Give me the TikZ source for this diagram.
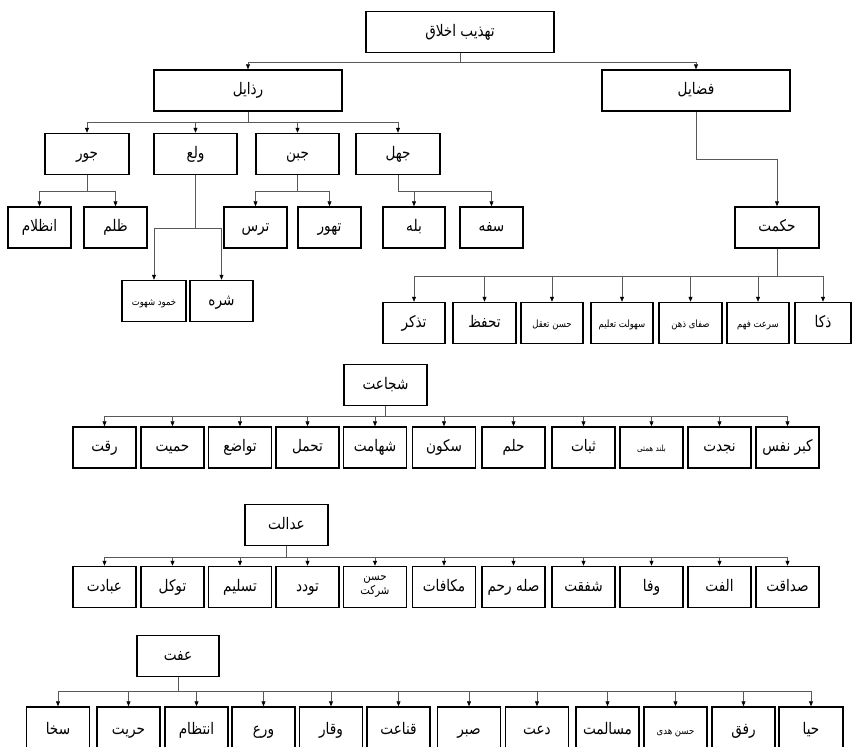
\documentclass[tikz,border=0pt]{standalone}
\usepackage{fontspec}
\usetikzlibrary{arrows.meta}
\TeXXeTstate=1
\newfontfamily\arabicfont[Script=Arabic,FakeStretch=0.85]{DejaVu Sans}
\newcommand{\fa}[1]{\arabicfont\beginR #1\endR}

\begin{document}
\begin{tikzpicture}[x=1pt,y=-1pt,
    box/.style = {draw, line width=1.5pt, minimum width=63pt, minimum height=41pt, inner sep=1pt,
                  text height=0.95em, text depth=0.1em, font=\fontsize{16}{18}\selectfont},
    wide/.style = {box, minimum width=188pt},
    mid/.style = {box, minimum width=83pt},
    small/.style = {font=\fontsize{10}{12}\selectfont},
    low/.style = {box, minimum height=46pt},
    arrow/.style = {line width=0.6pt, draw=black!65, -{Triangle[length=5pt,width=4pt,black]}}]
    \useasboundingbox (0,0) rectangle (852,747);
    \clip (0,0) rectangle (852,747);

    % top levels
    \node [wide] (akhlagh) at (460,32) {\fa{تهذیب اخلاق}};
    \node [wide] (razayel) at (248,90.5) {\fa{رذایل}};
    \node [wide] (fazayel) at (696,90.5) {\fa{فضایل}};

    \node [mid, minimum width=84pt] (jour) at (87,154) {\fa{جور}};
    \node [mid] (vala) at (195.5,154) {\fa{ولع}};
    \node [mid] (jobn) at (297.5,154) {\fa{جبن}};
    \node [mid, minimum width=84pt] (jahl) at (398,154) {\fa{جهل}};

    \node [box] (enzelam) at (39.5,227.5) {\fa{انظلام}};
    \node [box] (zolm) at (115.5,227.5) {\fa{ظلم}};
    \node [box, small, minimum width=64pt] (khomud) at (154,301) {\fa{خمود شهوت}};
    \node [box] (shareh) at (221.5,301) {\fa{شره}};
    \node [box] (tars) at (255.5,227.5) {\fa{ترس}};
    \node [box] (tahavvor) at (329.5,227.5) {\fa{تهور}};
    \node [box, minimum width=62pt] (balah) at (414,227.5) {\fa{بله}};
    \node [box] (safah) at (491.5,227.5) {\fa{سفه}};

    \node [mid, minimum width=84pt] (hekmat) at (777,227.5) {\fa{حکمت}};
    \node [box, minimum width=62pt] (tazakkor) at (414,323) {\fa{تذکر}};
    \node [box] (tahaffoz) at (484.5,323) {\fa{تحفظ}};
    \node [box, small, minimum width=62pt] (taaqol) at (552,323) {\fa{حسن تعقل}};
    \node [box, small, minimum width=62pt] (taalim) at (622,323) {\fa{سهولت تعلیم}};
    \node [box, small] (zehn) at (690.5,323) {\fa{صفای ذهن}};
    \node [box, small, minimum width=62pt] (fahm) at (758,323) {\fa{سرعت فهم}};
    \node [box, minimum width=56pt] (zaka) at (823,323) {\fa{ذکا}};

    \draw[arrow] (akhlagh.south) -- ++(0,9) -| (razayel.north);
    \draw[arrow] (akhlagh.south) -- ++(0,9) -| (fazayel.north);
    \draw[arrow] (razayel.south) -- ++(0,11) -| (jour.north);
    \draw[arrow] (razayel.south) -- ++(0,11) -| (vala.north);
    \draw[arrow] (razayel.south) -- ++(0,11) -| (jobn.north);
    \draw[arrow] (razayel.south) -- ++(0,11) -| (jahl.north);
    \draw[arrow] (jour.south) -- ++(0,16) -| (enzelam.north);
    \draw[arrow] (jour.south) -- ++(0,16) -| (zolm.north);
    \draw[arrow] (vala.south) -- ++(0,53) -| (khomud.north);
    \draw[arrow] (vala.south) -- ++(0,53) -| (shareh.north);
    \draw[arrow] (jobn.south) -- ++(0,16) -| (tars.north);
    \draw[arrow] (jobn.south) -- ++(0,16) -| (tahavvor.north);
    \draw[arrow] (jahl.south) -- ++(0,16) -| (balah.north);
    \draw[arrow] (jahl.south) -- ++(0,16) -| (safah.north);
    \draw[arrow] (fazayel.south) -- ++(0,48) -| (hekmat.north);
    \draw[arrow] (hekmat.south) -- ++(0,28) -| (tazakkor.north);
    \draw[arrow] (hekmat.south) -- ++(0,28) -| (tahaffoz.north);
    \draw[arrow] (hekmat.south) -- ++(0,28) -| (taaqol.north);
    \draw[arrow] (hekmat.south) -- ++(0,28) -| (taalim.north);
    \draw[arrow] (hekmat.south) -- ++(0,28) -| (zehn.north);
    \draw[arrow] (hekmat.south) -- ++(0,28) -| (fahm.north);
    \draw[arrow] (hekmat.south) -- ++(0,28) -| (zaka.north);

    % shojaat
    \node [mid] (shojaat) at (385.5,385) {\fa{شجاعت}};
    \node [box] (reqqat) at (104.5,447.5) {\fa{رقت}};
    \node [box] (hamiyat) at (172.5,447.5) {\fa{حمیت}};
    \node [box] (tavazo) at (240,447.5) {\fa{تواضع}};
    \node [box] (tahammol) at (307.5,447.5) {\fa{تحمل}};
    \node [box] (shahamat) at (375,447.5) {\fa{شهامت}};
    \node [box] (sokun) at (444,447.5) {\fa{سکون}};
    \node [box] (helm) at (513.5,447.5) {\fa{حلم}};
    \node [box] (sabat) at (583.5,447.5) {\fa{ثبات}};
    \node [box, font=\fontsize{8.5}{10}\selectfont] (hemmat) at (651.5,447.5) {\fa{بلند همتی}};
    \node [box] (najdat) at (719.5,447.5) {\fa{نجدت}};
    \node [box] (kebr) at (787.5,447.5) {\fa{کبر نفس}};

    \draw[arrow] (shojaat.south) -- ++(0,10) -| (reqqat.north);
    \draw[arrow] (shojaat.south) -- ++(0,10) -| (hamiyat.north);
    \draw[arrow] (shojaat.south) -- ++(0,10) -| (tavazo.north);
    \draw[arrow] (shojaat.south) -- ++(0,10) -| (tahammol.north);
    \draw[arrow] (shojaat.south) -- ++(0,10) -| (shahamat.north);
    \draw[arrow] (shojaat.south) -- ++(0,10) -| (sokun.north);
    \draw[arrow] (shojaat.south) -- ++(0,10) -| (helm.north);
    \draw[arrow] (shojaat.south) -- ++(0,10) -| (sabat.north);
    \draw[arrow] (shojaat.south) -- ++(0,10) -| (hemmat.north);
    \draw[arrow] (shojaat.south) -- ++(0,10) -| (najdat.north);
    \draw[arrow] (shojaat.south) -- ++(0,10) -| (kebr.north);

    % edalat
    \node [mid] (edalat) at (286.5,525) {\fa{عدالت}};
    \node [box] (ebadat) at (104.5,587) {\fa{عبادت}};
    \node [box] (tavakkol) at (172.5,587) {\fa{توکل}};
    \node [box] (taslim) at (240,587) {\fa{تسلیم}};
    \node [box] (tavaddod) at (307.5,587) {\fa{تودد}};
    \node [box, align=center, text height={}, text depth={}, font=\fontsize{12}{14}\selectfont] (sherkat) at (375,587) {\fa{حسن}\\\fa{شرکت}};
    \node [box] (mokafat) at (444,587) {\fa{مکافات}};
    \node [box] (rahem) at (513.5,587) {\fa{صله رحم}};
    \node [box] (shafaqat) at (583.5,587) {\fa{شفقت}};
    \node [box] (vafa) at (651.5,587) {\fa{وفا}};
    \node [box] (olfat) at (719.5,587) {\fa{الفت}};
    \node [box] (sedaghat) at (787.5,587) {\fa{صداقت}};

    \draw[arrow] (edalat.south) -- ++(0,11) -| (ebadat.north);
    \draw[arrow] (edalat.south) -- ++(0,11) -| (tavakkol.north);
    \draw[arrow] (edalat.south) -- ++(0,11) -| (taslim.north);
    \draw[arrow] (edalat.south) -- ++(0,11) -| (tavaddod.north);
    \draw[arrow] (edalat.south) -- ++(0,11) -| (sherkat.north);
    \draw[arrow] (edalat.south) -- ++(0,11) -| (mokafat.north);
    \draw[arrow] (edalat.south) -- ++(0,11) -| (rahem.north);
    \draw[arrow] (edalat.south) -- ++(0,11) -| (shafaqat.north);
    \draw[arrow] (edalat.south) -- ++(0,11) -| (vafa.north);
    \draw[arrow] (edalat.south) -- ++(0,11) -| (olfat.north);
    \draw[arrow] (edalat.south) -- ++(0,11) -| (sedaghat.north);

    % effat
    \node [mid, minimum width=82pt] (effat) at (178,656) {\fa{عفت}};
    \node [low] (sakha) at (58,730) {\fa{سخا}};
    \node [low] (horriyat) at (128.5,730) {\fa{حریت}};
    \node [low] (entezam) at (196.5,730) {\fa{انتظام}};
    \node [low] (vara) at (263.5,730) {\fa{ورع}};
    \node [low] (vaqar) at (331,730) {\fa{وقار}};
    \node [low] (qanaat) at (398.5,730) {\fa{قناعت}};
    \node [low] (sabr) at (469,730) {\fa{صبر}};
    \node [low] (daat) at (537,730) {\fa{دعت}};
    \node [low] (mosalemat) at (607.5,730) {\fa{مسالمت}};
    \node [low, small] (hoda) at (675.5,730) {\fa{حسن هدی}};
    \node [low] (rafq) at (743.5,730) {\fa{رفق}};
    \node [low, minimum width=64pt] (haya) at (811,730) {\fa{حیا}};

    \draw[arrow] (effat.south) -- ++(0,14) -| (sakha.north);
    \draw[arrow] (effat.south) -- ++(0,14) -| (horriyat.north);
    \draw[arrow] (effat.south) -- ++(0,14) -| (entezam.north);
    \draw[arrow] (effat.south) -- ++(0,14) -| (vara.north);
    \draw[arrow] (effat.south) -- ++(0,14) -| (vaqar.north);
    \draw[arrow] (effat.south) -- ++(0,14) -| (qanaat.north);
    \draw[arrow] (effat.south) -- ++(0,14) -| (sabr.north);
    \draw[arrow] (effat.south) -- ++(0,14) -| (daat.north);
    \draw[arrow] (effat.south) -- ++(0,14) -| (mosalemat.north);
    \draw[arrow] (effat.south) -- ++(0,14) -| (hoda.north);
    \draw[arrow] (effat.south) -- ++(0,14) -| (rafq.north);
    \draw[arrow] (effat.south) -- ++(0,14) -| (haya.north);
\end{tikzpicture}
\end{document}
